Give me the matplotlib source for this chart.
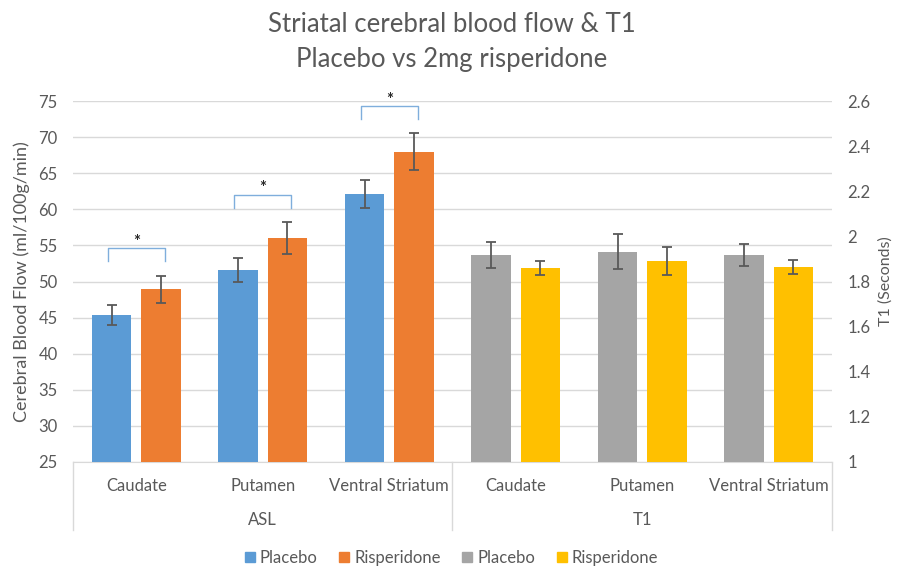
import matplotlib.pyplot as plt
import matplotlib.transforms as mtransforms
from matplotlib.lines import Line2D
from matplotlib.patches import Patch
import numpy as np

plt.rcParams['font.family'] = ['Lato', 'DejaVu Sans']

regions = ['Caudate', 'Putamen', 'Ventral Striatum']
groups = ['ASL', 'T1']

asl_placebo = [45.4, 51.6, 62.1]
asl_placebo_err = [1.4, 1.6, 1.9]
asl_risp = [48.9, 56.0, 68.0]
asl_risp_err = [1.9, 2.2, 2.5]

t1_placebo = [1.918, 1.932, 1.918]
t1_placebo_err = [0.056, 0.077, 0.049]
t1_risp = [1.858, 1.891, 1.864]
t1_risp_err = [0.031, 0.060, 0.032]

legend_labels = ['Placebo', 'Risperidone', 'Placebo', 'Risperidone']
colors = ['#5B9BD5', '#ED7D31', '#A5A5A5', '#FFC000']
txt = '#595959'
grid = '#D9D9D9'

fig = plt.figure(figsize=(9.03, 5.67), dpi=100)
ax = fig.add_axes([73 / 903, 1 - 462 / 567, 759 / 903, 361 / 567])
ax2 = ax.twinx()

x_asl = np.arange(3)
x_t1 = np.arange(3) + 3
off, w = 0.195, 0.31
ekw = dict(ecolor='#595959', elinewidth=1.3, capsize=3.5, capthick=1.3)

ax.bar(x_asl - off, asl_placebo, w, yerr=asl_placebo_err, color=colors[0], error_kw=ekw, zorder=3)
ax.bar(x_asl + off, asl_risp, w, yerr=asl_risp_err, color=colors[1], error_kw=ekw, zorder=3)
ax2.bar(x_t1 - off, t1_placebo, w, yerr=t1_placebo_err, color=colors[2], error_kw=ekw, zorder=3)
ax2.bar(x_t1 + off, t1_risp, w, yerr=t1_risp_err, color=colors[3], error_kw=ekw, zorder=3)

# significance brackets over ASL pairs
for i in range(3):
    top = asl_risp[i] + asl_risp_err[i]
    x0, x1 = i - 0.225, i + 0.225
    ax.plot([x0, x0, x1, x1], [top + 2.0, top + 3.8, top + 3.8, top + 2.0],
            color='#7FAEDC', lw=1.0, clip_on=False, zorder=4)
    ax.text(i, top + 4.7, '*', ha='center', va='center', fontsize=12, color='#262626',
            fontweight='bold', clip_on=False)

ax.set_xlim(-0.5, 5.5)
ax.set_ylim(25, 75)
ax.set_yticks(np.arange(25, 76, 5))
ax2.set_ylim(1, 2.6)
ax2.set_yticks(np.round(np.arange(1, 2.61, 0.2), 1))
ax2.set_yticklabels([f'{v:g}' for v in np.round(np.arange(1, 2.61, 0.2), 1)])

ax.yaxis.grid(True, color=grid, lw=1.0, zorder=0)
ax.set_axisbelow(True)
for a in (ax, ax2):
    for s in ['top', 'left', 'right']:
        a.spines[s].set_visible(False)
    a.spines['bottom'].set_color(grid)
    a.tick_params(axis='y', length=0, labelsize=12, labelcolor=txt)
    a.tick_params(axis='x', length=0)
ax2.spines['bottom'].set_visible(False)
ax.set_xticks([])
ax.tick_params(axis='y', pad=11)
ax2.tick_params(axis='y', pad=11)

ax.set_ylabel('Cerebral Blood Flow (ml/100g/min)', fontsize=13, color=txt, labelpad=6)
ax2.set_ylabel('T1 (Seconds)', fontsize=11.5, color=txt, labelpad=6)

# multi-level category axis
trans = mtransforms.blended_transform_factory(ax.transData, ax.transAxes)
px = 1 / 361
for i, r in enumerate(regions * 2):
    ax.text(i, -24 * px, r, transform=trans, ha='center', va='center', fontsize=12, color=txt)
for g, gx in zip(groups, [1, 4]):
    ax.text(gx, -58 * px, g, transform=trans, ha='center', va='center', fontsize=12, color=txt)
for xv in [-0.5, 2.5, 5.5]:
    ax.add_line(Line2D([xv, xv], [0, -68 * px], transform=trans, color=grid, lw=1.0, clip_on=False))

fig.text(0.5, 1 - 24 / 567, 'Striatal cerebral blood flow & T1', ha='center', va='center',
         fontsize=18.5, color=txt)
fig.text(0.5, 1 - 60 / 567, 'Placebo vs 2mg risperidone', ha='center', va='center',
         fontsize=18.5, color=txt)

handles = [Patch(color=c) for c in colors]
fig.legend(handles, legend_labels, loc='center', bbox_to_anchor=(0.5, 1 - 558 / 567), ncol=4,
           frameon=False, fontsize=12, labelcolor=txt, handlelength=0.6, handleheight=0.6,
           handletextpad=0.3, columnspacing=1.3)

fig.savefig('out.png', dpi=100)
